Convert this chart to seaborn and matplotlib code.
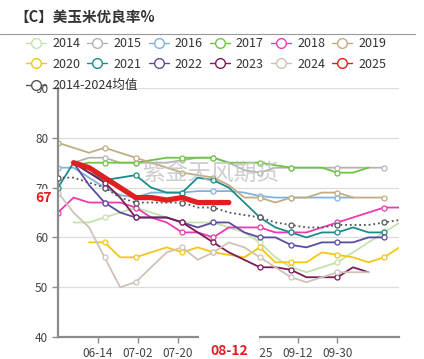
import matplotlib
matplotlib.use("Agg")
import matplotlib.pyplot as plt
from matplotlib.lines import Line2D
import numpy as np
import pandas as pd
import seaborn as sns

# weekly positions, days after 05-27
days = list(range(0, 155, 7))
tick_days = [18, 36, 54, 72, 90, 108, 126]
tick_labels = ["06-14", "07-02", "07-20", "08-07", "08-25", "09-12", "09-30"]
mark_days = [0, 21, 35, 56, 70, 91, 105, 126, 147]

nan = np.nan
y2014 = [nan, 63, 63, 64, 65, 66, 65, 64, 63, 63, 63, 62, 61, 59, 56, 54, 53, 54, 55, 57, 59, 61, 63]
y2015 = [nan, 75, 76, 76, 75, 75, 75, 75, 75.5, 76, 76, 75, 73.5, 73, 74, 74, 74, 74, 74, 74, 74, 74, nan]
y2016 = [74, 74, 72, 70, 68.5, 68, 69, 69, 69, 69.3, 69.3, 69.3, 69, 68.3, 68, 68, 68, 68, 68, 68, nan, nan, nan]
y2017 = [nan, 74.5, 75, 75, 75, 75, 75.5, 76, 76, 76, 76, 75, 75, 75, 74.5, 74, 74, 74, 73, 73, 74, nan, nan]
y2018 = [65, 68, 67, 67, 67, 66, 64, 63, 61, 61, 60, 62, 62, 62, 61, 61, 61, 62, 63, 64, 65, 66, 66]
y2019 = [79, 78, 77, 78, 77, 76, 75, 74, 73, 72.5, 72, 70.5, 68, 68, 67, 68, 68, 69, 69, 68, 68, 68, nan]
y2020 = [nan, nan, 59, 59, 56, 56, 57, 58, 57, 58, 57, 56.5, 56, 58, 55, 55, 55, 57, 56.5, 56, 55, 56, 58]
y2021 = [70, 75, 73, 71.5, 72, 72.5, 70, 69, 69, 72, 71.5, 70, 67, 64, 62, 61, 60, 61, 61, 62, 61, 61, nan]
y2022 = [nan, 75, 70.5, 67, 65, 64, 64, 64, 63, 62, 63, 63, 61, 60, 60, 58.5, 58, 59, 59, 59, 60, 60, nan]
y2023 = [nan, 75, 73, 71, 68, 64, 64, 64, 63, 61, 59, 57, 55.5, 54, 54, 53.5, 52, 52, 52, 54, 53, nan, nan]
y2024 = [69, 65, 62, 56, 50, 51, 54, 57, 58, 55.5, 57, 59, 58, 56, 54, 52, 51, 52, 53, 53, 53, nan, nan]
y2025 = [nan, 75, 74, 72, 70, 68, 68, 67.5, 68, 67, 67, 67, nan, nan, nan, nan, nan, nan, nan, nan, nan, nan, nan]
y_mean = [72, 72, 71, 70, 68, 67, 67, 67, 67, 66, 66, 65, 64.5, 64, 63, 62.5, 62, 62, 62.5, 62.5, 62.5, 63, 63.5]

latest_value = 67
latest_day = 77
latest_label = "08-12"

series = [
    ("2014", y2014, "#c4e2ad"),
    ("2015", y2015, "#b3b3b3"),
    ("2016", y2016, "#80b2e0"),
    ("2017", y2017, "#6cc644"),
    ("2018", y2018, "#e83caf"),
    ("2019", y2019, "#c0ad82"),
    ("2020", y2020, "#f5c518"),
    ("2021", y2021, "#1b8c8c"),
    ("2022", y2022, "#5a4d9e"),
    ("2023", y2023, "#7b1b58"),
    ("2024", y2024, "#cdc3b6"),
    ("2025", y2025, "#e02020"),
]

sns.set_theme(style="white")
plt.rcParams["font.family"] = ["Noto Sans CJK SC", "DejaVu Sans"]

fig = plt.figure(figsize=(4.24, 3.59), dpi=100)
ax = fig.add_axes([58 / 424, 1 - 337 / 359, (398.5 - 58) / 424, (337 - 88) / 359])


def draw(vals, color, lw, ls="-", marks=True, z=2):
    df = pd.DataFrame({"day": days, "val": vals}).dropna()
    idx = [i for i, d in enumerate(df["day"]) if d in mark_days] if marks else None
    sns.lineplot(data=df, x="day", y="val", ax=ax, color=color, linewidth=lw,
                 linestyle=ls, marker="o" if marks else None, markevery=idx,
                 markersize=3.6, markerfacecolor="white", markeredgecolor=color,
                 markeredgewidth=0.9, zorder=z)


for name, vals, color in series:
    if name == "2025":
        continue
    draw(vals, color, 1.3)
draw(y_mean, "#555555", 1.3, ls=(0, (1, 1.6)), z=3)
draw(y2025, "#e02020", 3.8, marks=False, z=4)

ax.set_xlim(0, 153.5)
ax.set_ylim(40, 90)
ax.set_yticks([40, 50, 60, 70, 80, 90])
ax.set_xticks(tick_days)
ax.set_xticklabels(tick_labels)
ax.set_xlabel("")
ax.set_ylabel("")
ax.grid(axis="y", color="#dcdcdc", linewidth=0.9)
ax.grid(axis="x", visible=False)
for s in ["top", "right"]:
    ax.spines[s].set_visible(False)
for s in ["left", "bottom"]:
    ax.spines[s].set_color("#8c8c8c")
    ax.spines[s].set_linewidth(1.6)
ax.tick_params(axis="both", colors="#8c8c8c", length=4, width=1, labelsize=8.5,
               labelcolor="#444444", pad=3, left=True, bottom=True)

# latest value / latest date labels
ax.annotate(str(latest_value), xy=(0, latest_value), xycoords=("axes fraction", "data"),
            xytext=(-4.5, 3.5), textcoords="offset points", ha="right", va="center",
            color="#e02020", fontsize=10, fontweight="bold", annotation_clip=False,
            bbox=dict(facecolor="white", edgecolor="none", pad=1.5))
ax.annotate(latest_label, xy=(latest_day, 0), xycoords=("data", "axes fraction"),
            xytext=(0, -5), textcoords="offset points", ha="center", va="top",
            color="#e02020", fontsize=10, fontweight="bold", annotation_clip=False,
            bbox=dict(facecolor="white", edgecolor="none", pad=8))

# watermark
fig.text(211 / 424, 1 - 173 / 359, "紫金天风期货", ha="center", va="center",
         fontsize=16.5, color="#c2c2c2", alpha=0.8, fontweight="light")

# title and separator
fig.text(14 / 424, 1 - 17 / 359, "【C】美玉米优良率%", ha="left", va="center",
         fontsize=10.5, fontweight="bold", color="#333333")
fig.add_artist(Line2D([0, 415 / 424], [1 - 34 / 359, 1 - 34 / 359], color="#999999",
                      linewidth=0.8, transform=fig.transFigure))


def icon(c):
    return Line2D([], [], color=c, marker="o", markersize=7, markerfacecolor="white",
                  markeredgewidth=1, linewidth=1)


# matplotlib fills legend columns first: reorder so rows read 2014-2019, 2020-2025
order = [0, 6, 1, 7, 2, 8, 3, 9, 4, 10, 5, 11]
handles = [icon(series[i][2]) for i in order]
labels = [series[i][0] for i in order]
leg_kw = dict(frameon=False, fontsize=9, handlelength=1.6, handletextpad=0.5,
              columnspacing=0.55, labelspacing=0.6, borderpad=0, labelcolor="#333333")
fig.legend(handles, labels, ncol=6, loc="upper left",
           bbox_to_anchor=(20 / 424, 1 - 31 / 359), **leg_kw)
fig.legend([icon("#555555")], ["2014-2024均值"], loc="upper left",
           bbox_to_anchor=(20 / 424, 1 - 73 / 359), **leg_kw)

fig.savefig("out.png", dpi=100)
